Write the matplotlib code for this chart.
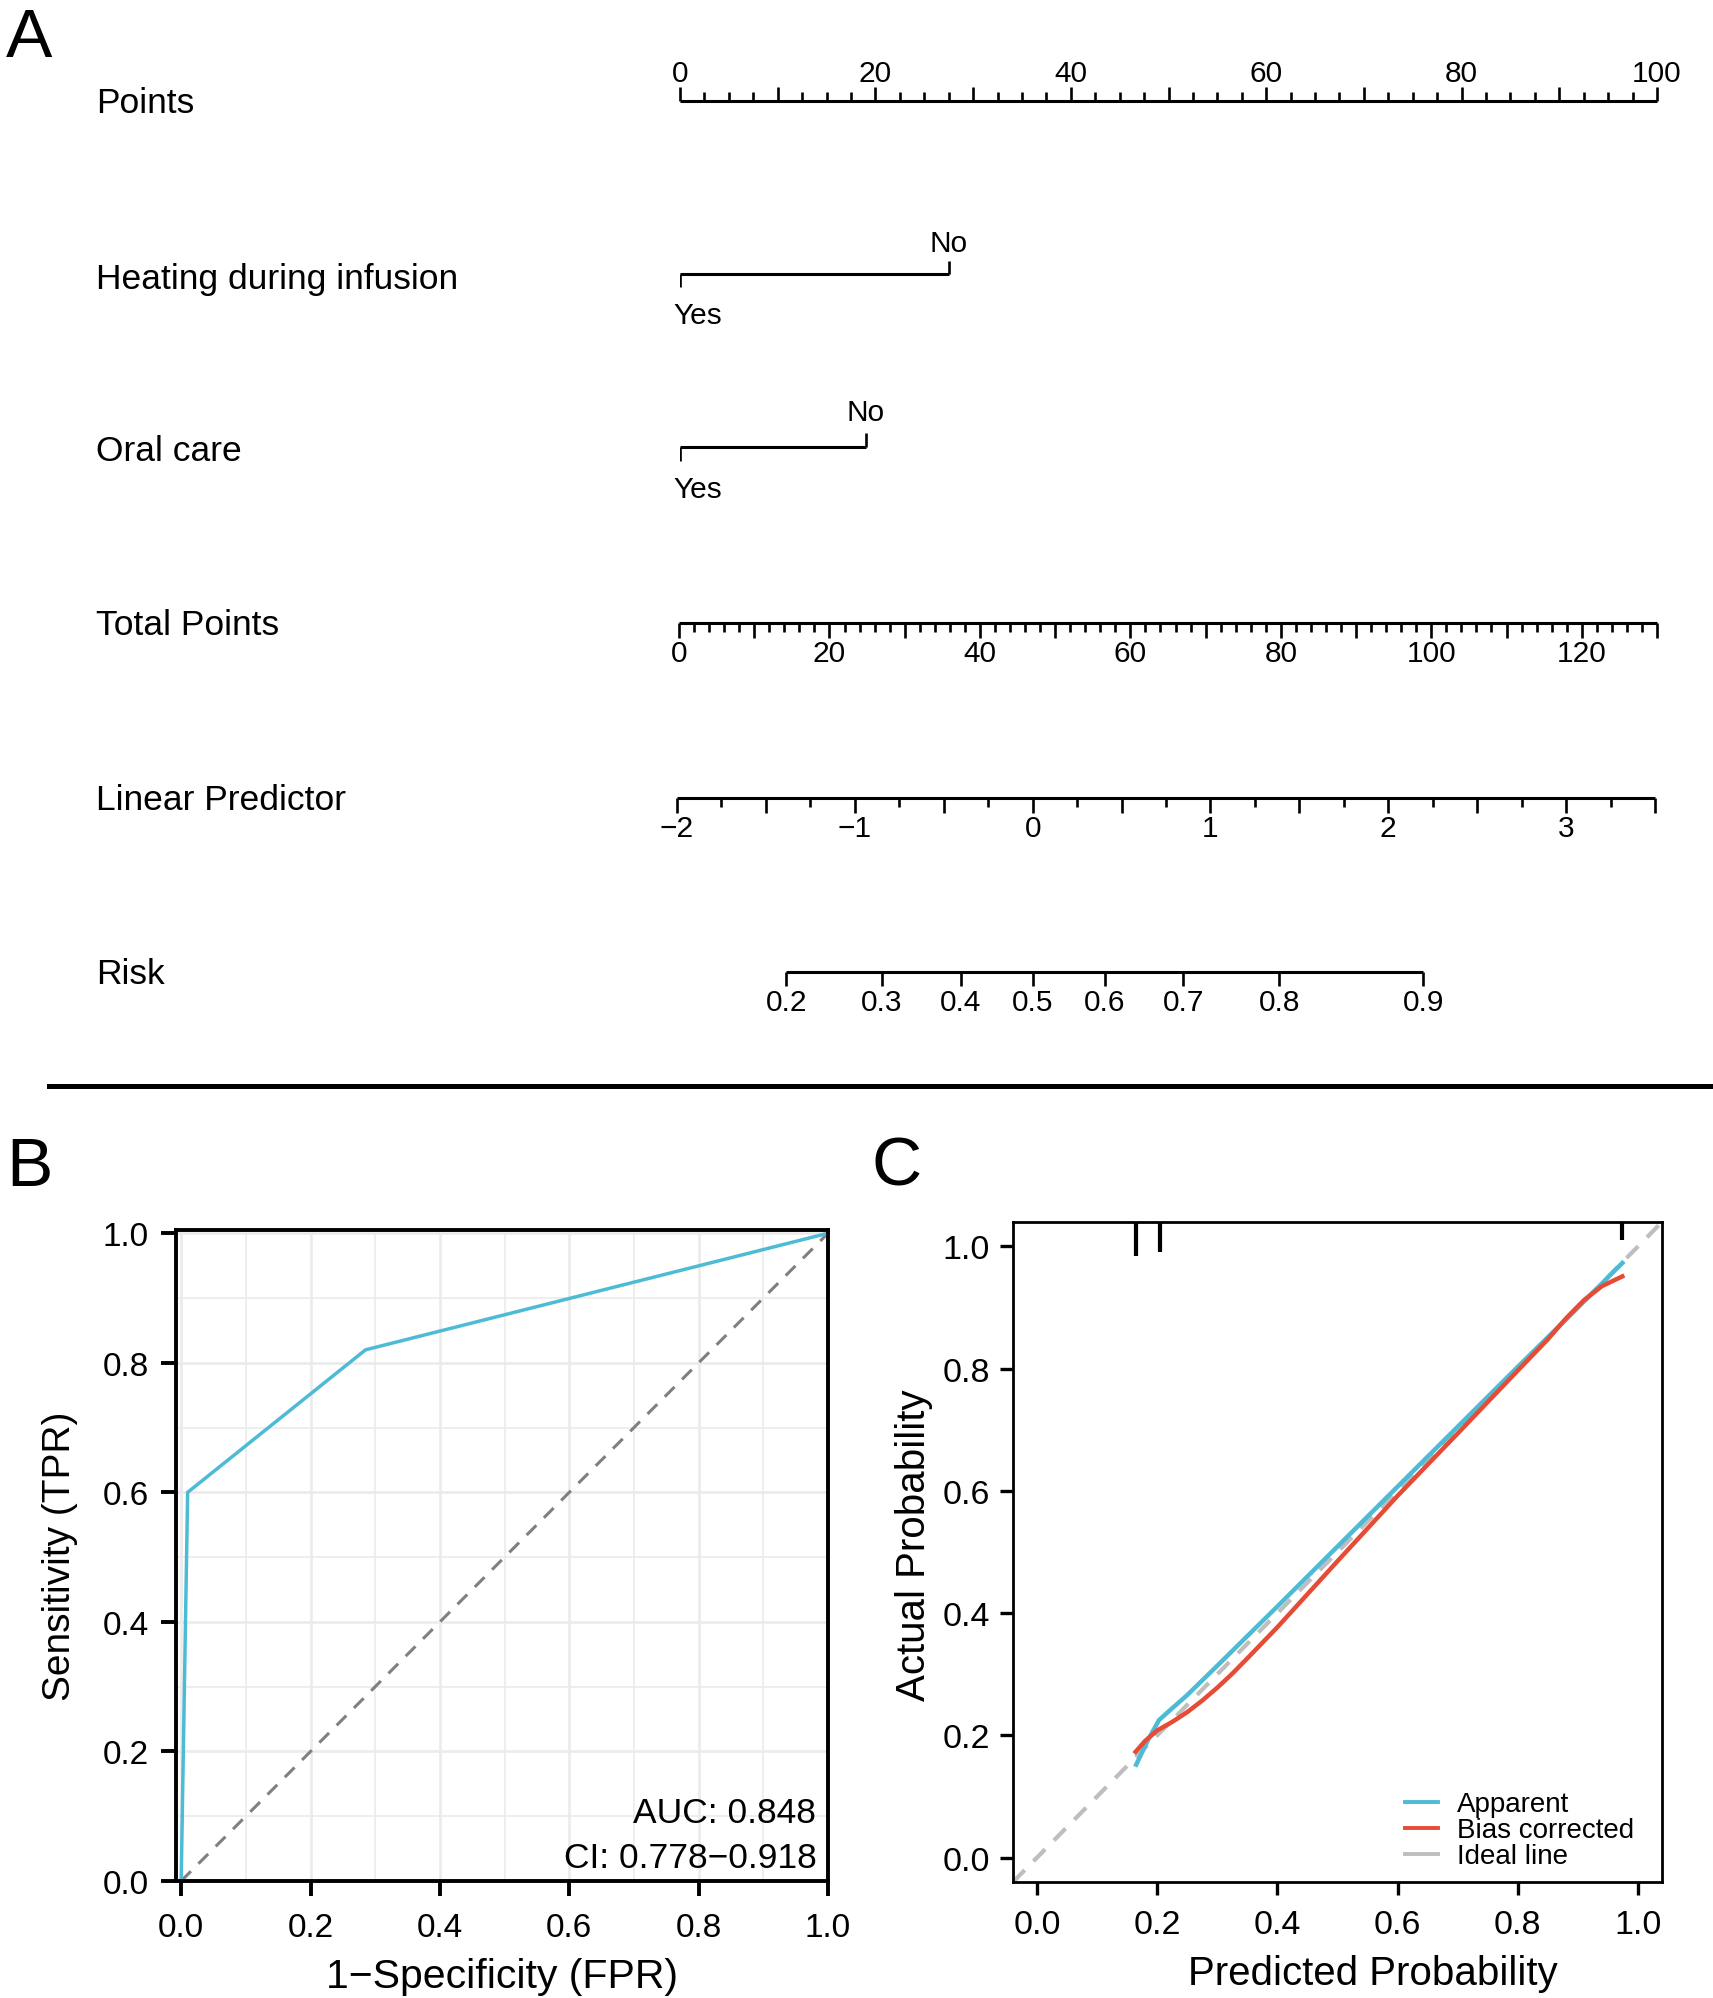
import numpy as np
import matplotlib
matplotlib.use("Agg")
import matplotlib.pyplot as plt
import matplotlib.transforms as mtransforms
from matplotlib.lines import Line2D

plt.rcParams['font.family'] = ['Liberation Sans', 'DejaVu Sans']

W, H = 1713, 1999

# ---- nomogram (panel A) ----
row_names = ['Points', 'Heating during infusion', 'Oral care',
             'Total Points', 'Linear Predictor', 'Risk']
points_labels = [0, 20, 40, 60, 80, 100]
heating_levels = ['Yes', 'No']
heating_points = [0, 27.5]
oral_levels = ['Yes', 'No']
oral_points = [0, 19.0]
total_labels = [0, 20, 40, 60, 80, 100, 120]
total_max = 130
lp_labels = [-2, -1, 0, 1, 2, 3]
lp_range = [-2, 3.5]
risk_labels = [0.2, 0.3, 0.4, 0.5, 0.6, 0.7, 0.8, 0.9]

# ---- ROC (panel B) ----
roc_fpr = [0.0, 0.01, 0.285, 1.0]
roc_tpr = [0.0, 0.60, 0.82, 1.0]
auc_text = 'AUC: 0.848'
ci_text = 'CI: 0.778\u22120.918'

# ---- calibration (panel C) ----
app_x = [0.165, 0.185, 0.203, 0.22, 0.25, 0.30, 0.40, 0.50, 0.60, 0.70, 0.80, 0.90, 0.974]
app_y = [0.152, 0.193, 0.225, 0.240, 0.266, 0.314, 0.411, 0.509, 0.607, 0.705, 0.803, 0.900, 0.973]
bc_x = [0.164, 0.18, 0.20, 0.225, 0.25, 0.275, 0.30, 0.325, 0.35, 0.40, 0.50, 0.60, 0.70, 0.80,
        0.85, 0.88, 0.91, 0.94, 0.974]
bc_y = [0.173, 0.191, 0.208, 0.222, 0.238, 0.257, 0.278, 0.301, 0.326, 0.377, 0.485, 0.592, 0.694,
        0.797, 0.848, 0.882, 0.912, 0.935, 0.951]
rug_x = [0.164, 0.205, 0.973]
rug_rel = [1.0, 0.88, 0.53]

CYAN = '#4DBBD5'
RED = '#E64B35'

fig = plt.figure(figsize=(W / 100, H / 100), dpi=100)


def fy(py):
    return 1 - py / H


def cap(size):
    # px between cap centre and baseline
    return 0.358 * size * 100 / 72


def row_axes(x0, x1, yline, xlim, half=70):
    ax = fig.add_axes([x0 / W, fy(yline + half), (x1 - x0) / W, 2 * half / H])
    ax.set_xlim(xlim)
    ax.set_ylim(-half, half)
    ax.axis('off')
    return ax


def put(ax, x, yc, s, size=21.5, ha='center', dx=0):
    tr = mtransforms.offset_copy(ax.transData, fig, x=dx, y=0, units='dots')
    ax.text(x, yc - cap(size), s, ha=ha, va='baseline', fontsize=size, transform=tr)


LW = 2.2
TW = 1.9

# row titles
title_y = [100, 276, 448, 622, 797, 971]
for name, yc in zip(row_names, title_y):
    fig.text(96 / W, fy(yc + cap(25.5)), name, fontsize=25.5, ha='left', va='baseline')

# Points
ax = row_axes(680, 1657, 101.5, (0, 100))
ax.plot([0, 100], [0, 0], color='k', lw=LW, clip_on=False, solid_capstyle='butt')
t = np.arange(0, 100.01, 2.5)
major = np.isclose(t % 10, 0)
ax.vlines(t[major], 0, 13, color='k', lw=TW, clip_on=False)
ax.vlines(t[~major], 0, 8, color='k', lw=TW, clip_on=False)
for v in points_labels:
    put(ax, v, 30.5, str(v))

# Heating during infusion
ax = row_axes(680, 1657, 275, (0, 100))
ax.plot(heating_points, [0, 0], color='k', lw=LW, clip_on=False, solid_capstyle='butt')
ax.vlines(heating_points[0], -13, 0, color='k', lw=TW)
ax.vlines(heating_points[1], 0, 13, color='k', lw=TW)
put(ax, heating_points[0], -38.5, heating_levels[0], ha='left', dx=-7)
put(ax, heating_points[1], 34, heating_levels[1])

# Oral care
ax = row_axes(680, 1657, 447.5, (0, 100))
ax.plot(oral_points, [0, 0], color='k', lw=LW, clip_on=False, solid_capstyle='butt')
ax.vlines(oral_points[0], -14, 0, color='k', lw=TW)
ax.vlines(oral_points[1], 0, 14, color='k', lw=TW)
put(ax, oral_points[0], -39.5, oral_levels[0], ha='left', dx=-7)
put(ax, oral_points[1], 37, oral_levels[1])

# Total Points
ax = row_axes(679, 1657, 623.5, (0, total_max))
ax.plot([0, total_max], [0, 0], color='k', lw=LW, clip_on=False, solid_capstyle='butt')
t = np.arange(0, total_max + 0.01, 2)
major = np.isclose(t % 10, 0)
ax.vlines(t[major], -15, 0, color='k', lw=TW, clip_on=False)
ax.vlines(t[~major], -9, 0, color='k', lw=TW, clip_on=False)
for v in total_labels:
    put(ax, v, -28, str(v))

# Linear Predictor
ax = row_axes(677, 1655, 798.5, tuple(lp_range))
ax.plot(lp_range, [0, 0], color='k', lw=LW, clip_on=False, solid_capstyle='butt')
t = np.arange(lp_range[0], lp_range[1] + 0.001, 0.25)
major = np.isclose(t % 0.5, 0)
ax.vlines(t[major], -15, 0, color='k', lw=TW, clip_on=False)
ax.vlines(t[~major], -9, 0, color='k', lw=TW, clip_on=False)
for v in lp_labels:
    put(ax, v, -27.5, f'{v:g}'.replace('-', '\u2212'))

# Risk (same placement as linear predictor, logit scale)
ax = row_axes(677, 1655, 972.5, (0.2, 0.9))
ax.set_xscale('logit')
lo, hi = lp_range
ax.set_xlim(1 / (1 + np.exp(-lo)), 1 / (1 + np.exp(-hi)))
ax.axis('off')
ax.plot([risk_labels[0], risk_labels[-1]], [0, 0], color='k', lw=LW, clip_on=False,
        solid_capstyle='butt')
ax.vlines(risk_labels, -14, 0, color='k', lw=TW, clip_on=False)
for v in risk_labels:
    put(ax, v, -27.5, f'{v:.1f}')

# separator
fig.add_artist(Line2D([49 / W, 1], [fy(1087), fy(1087)], lw=3.6, color='k'))

# panel letters
fig.text(5.5 / W, fy(57), 'A', fontsize=50, ha='left', va='baseline')
fig.text(6 / W, fy(1186), 'B', fontsize=50, ha='left', va='baseline')
fig.text(872 / W, fy(1185), 'C', fontsize=50, ha='left', va='baseline')

# ---- panel B: ROC ----
axb = fig.add_axes([176 / W, fy(1882), (828 - 176) / W, (1882 - 1231) / H])
axb.set_xlim(-0.008, 1.0)
axb.set_ylim(0, 1.005)
ticks = np.arange(0, 1.01, 0.2)
axb.set_xticks(ticks)
axb.set_yticks(ticks)
axb.set_xticks(np.arange(0.1, 1.0, 0.2), minor=True)
axb.set_yticks(np.arange(0.1, 1.0, 0.2), minor=True)
axb.grid(which='major', color='#EBEBEB', lw=1.9)
axb.grid(which='minor', color='#EBEBEB', lw=1.2)
axb.set_axisbelow(True)
axb.plot([0, 1], [0, 1], color='#808080', lw=2.2, ls=(0, (4.5, 3.5)))
axb.plot(roc_fpr, roc_tpr, color=CYAN, lw=2.5)
axb.text(0.982, 0.0915, auc_text, ha='right', va='baseline', fontsize=25.5)
axb.text(0.982, 0.0216, ci_text, ha='right', va='baseline', fontsize=25.5)
for s in axb.spines.values():
    s.set_linewidth(2.8)
axb.tick_params(which='major', width=2.8, length=10.5, labelsize=24)
axb.tick_params(axis='x', pad=12)
axb.tick_params(axis='y', pad=9)
axb.tick_params(which='minor', length=0)
axb.set_xlabel('1\u2212Specificity (FPR)', fontsize=29.5, va='center')
axb.set_ylabel('Sensitivity (TPR)', fontsize=28, va='center')
axb.xaxis.set_label_coords(0.5, (1882 - 1977) / 651)
axb.yaxis.set_label_coords((60.4 - 176) / 652, 0.5)

# ---- panel C: calibration ----
axc = fig.add_axes([1013 / W, fy(1883), (1662 - 1013) / W, (1883 - 1223) / H])
axc.set_xlim(-0.04, 1.04)
axc.set_ylim(-0.04, 1.04)
axc.set_xticks(ticks)
axc.set_yticks(ticks)
axc.axline((0, 0), (1, 1), color='#BEBEBE', lw=3, ls=(0, (4, 3)))
axc.plot(app_x, app_y, color=CYAN, lw=3.2)
axc.plot(bc_x, bc_y, color=RED, lw=3.2)
rug_tr = mtransforms.blended_transform_factory(axc.transData, axc.transAxes)
axc.vlines(rug_x, 1 - 0.052 * np.array(rug_rel), 1, color='k', lw=3, transform=rug_tr)
for s in axc.spines.values():
    s.set_linewidth(2.0)
axc.tick_params(width=2.4, length=9.3, labelsize=24.5)
axc.tick_params(axis='x', pad=10.5)
axc.tick_params(axis='y', pad=7.5)
axc.set_xlabel('Predicted Probability', fontsize=29, va='center')
axc.set_ylabel('Actual Probability', fontsize=29, va='center')
axc.xaxis.set_label_coords(0.555, (1883 - 1974.4) / 660)
axc.yaxis.set_label_coords((914 - 1013) / 649, 0.511)
handles = [Line2D([], [], color=CYAN, lw=2.8),
           Line2D([], [], color=RED, lw=2.8),
           Line2D([], [], color='#BEBEBE', lw=2.8)]
axc.legend(handles, ['Apparent', 'Bias corrected', 'Ideal line'], loc='center left',
           bbox_to_anchor=(1405 / W, fy(1831.5)), bbox_transform=fig.transFigure,
           fontsize=20, frameon=False, handlelength=1.2, handletextpad=0.68,
           labelspacing=0.0, borderpad=0, borderaxespad=0)

fig.savefig('out.png', dpi=100)
